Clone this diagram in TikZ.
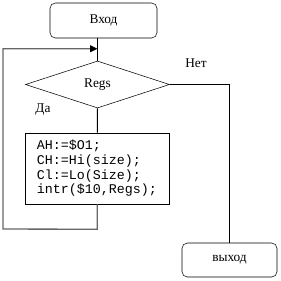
\documentclass[tikz,border=0pt]{standalone}
\usepackage{fontspec}
\setmainfont{Liberation Serif}
\setmonofont{Liberation Mono}
\usetikzlibrary{positioning, shapes.geometric, calc, arrows.meta}

\begin{document}
\begin{tikzpicture}[
  x=0.75pt, y=-0.75pt,
  font=\fontsize{10pt}{12pt}\selectfont,
  >={Triangle[length=5.5pt,width=5pt,color=black]},
  termbox/.style={rectangle, draw, rounded corners=4pt, inner sep=0pt},
  decide/.style={diamond, draw, aspect=3, inner sep=0pt,
                 minimum width=108pt, minimum height=35.25pt},
  procbox/.style={rectangle, draw, inner xsep=8.6pt, inner ysep=0pt,
                  text width=90.4pt, minimum height=53.25pt, align=left,
                  font=\ttfamily\fontsize{10pt}{11pt}\selectfont},
  flow/.style={draw, line width=0.75pt},
  loopline/.style={draw, line width=1pt, black!60},
  lbl/.style={inner sep=0pt}
]
\useasboundingbox (0,0) rectangle (281,280);

% --- blocks ---
\node[termbox, minimum width=80.25pt, minimum height=26.25pt] (entry) at (103.5,20.5) {Вход};
\node[decide] (regs) at (97.5,84.5) {Regs};
\node[procbox] (call) at (97.25,168.5) {%
  AH:=\$O1;\\
  CH:=Hi(size);\\
  Cl:=Lo(Size);\\
  intr(\$10,Regs);};
\node[termbox, minimum width=71.25pt, minimum height=25.5pt] (exit) at (229.5,260) {выход};

% --- labels ---
\node[lbl] (no) at (196,63) {Нет};
\node[lbl] (yes) at (43,110) {Да};

% --- connectors ---
\coordinate (join) at ($(regs.north)+(0,-12)$);
\coordinate (back) at ($(call.south)+(0,25)$);
\coordinate (corner) at (3,229);
\draw[flow] (regs.north) -- (regs.north |- entry.south);
\draw[flow] (regs.south) -- (call.north);
\draw[flow] (regs.east) -| (exit.north);
\draw[loopline, ->] (call.south) -- (back) -- (corner) |- (join);

\end{tikzpicture}
\end{document}
